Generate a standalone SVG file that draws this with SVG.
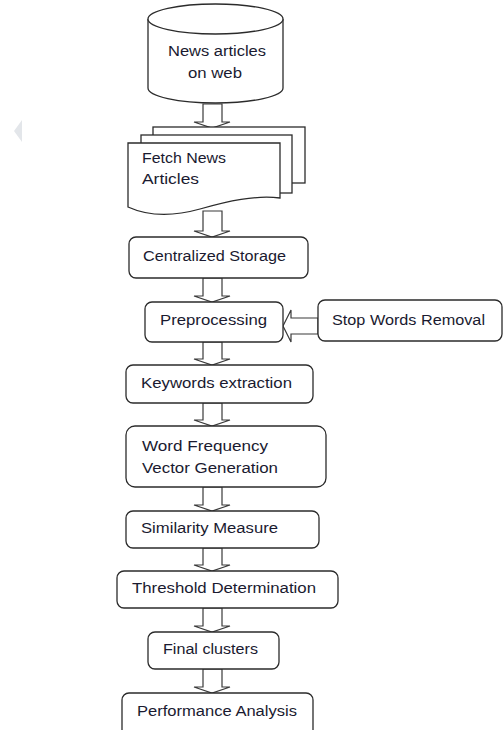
<svg xmlns="http://www.w3.org/2000/svg" width="503" height="730" viewBox="0 0 503 730">
<defs>
<style>
.bx{fill:#fff;stroke:#2b2b2b;stroke-width:1.3}
.ar{fill:#fff;stroke:#3a3a3a;stroke-width:1.2;stroke-linejoin:miter}
.t{font-family:"Liberation Sans",Arial,sans-serif;font-size:15.5px;fill:#1a1a30}
</style>
</defs>
<rect width="503" height="730" fill="#fff"/>
<polygon points="22,120 14,131 22,142" fill="#e3e6ea"/>
<g id="connectors">
<polygon class="ar" points="203,104 222,104 222,122 230,122 212,128 194,122 203,122"/>
<polygon class="ar" points="203,211 222,211 222,231 230,231 212,237 194,231 203,231"/>
<polygon class="ar" points="203,278 222,278 222,296 230,296 212,302 194,296 203,296"/>
<polygon class="ar" points="203,342 222,342 222,359 230,359 212,365 194,359 203,359"/>
<polygon class="ar" points="203,403 222,403 222,420 230,420 212,426 194,420 203,420"/>
<polygon class="ar" points="203,487 222,487 222,505 230,505 212,511 194,505 203,505"/>
<polygon class="ar" points="203,548 222,548 222,565 230,565 212,571 194,565 203,565"/>
<polygon class="ar" points="203,608 222,608 222,626 230,626 212,632 194,626 203,626"/>
<polygon class="ar" points="203,669 222,669 222,687 230,687 212,693 194,687 203,687"/>
<polygon class="ar" points="318,318 291,318 291,310 283,326 291,342 291,334 318,334"/>
</g>
<g id="news-web">
<path class="bx" d="M148,19 L148,88 A67.5,15 0 0 0 283,88 L283,19 A67.5,15 0 0 0 148,19 Z"/>
<path class="bx" fill="none" d="M148,19 A67.5,15 0 0 0 283,19"/>
<text class="t" x="217" y="56" text-anchor="middle" textLength="98" lengthAdjust="spacingAndGlyphs">News articles</text>
<text class="t" x="215" y="78" text-anchor="middle" textLength="54" lengthAdjust="spacingAndGlyphs">on web</text>
</g>
<g id="fetch">
<rect class="bx" x="153" y="127" width="152" height="56"/>
<rect class="bx" x="141" y="135" width="151" height="58"/>
<path class="bx" d="M128,143 L280,143 L280,198 C255,195 228,201 200,209 C175,216 150,217 128,207 Z"/>
<text class="t" x="142" y="163" textLength="84" lengthAdjust="spacingAndGlyphs">Fetch News</text>
<text class="t" x="142" y="184" textLength="57" lengthAdjust="spacingAndGlyphs">Articles</text>
</g>
<g id="storage">
<rect class="bx" x="129" y="237" width="179" height="41" rx="7"/>
<text class="t" x="143" y="261" textLength="143" lengthAdjust="spacingAndGlyphs">Centralized Storage</text>
</g>
<g id="preprocessing">
<rect class="bx" x="145" y="302" width="138" height="40" rx="7"/>
<text class="t" x="160" y="325" textLength="107" lengthAdjust="spacingAndGlyphs">Preprocessing</text>
</g>
<g id="stopwords">
<rect class="bx" x="318" y="300" width="184" height="41" rx="7"/>
<text class="t" x="332" y="325" textLength="153" lengthAdjust="spacingAndGlyphs">Stop Words Removal</text>
</g>
<g id="keywords">
<rect class="bx" x="126" y="365" width="187" height="38" rx="7"/>
<text class="t" x="141" y="388" textLength="151" lengthAdjust="spacingAndGlyphs">Keywords extraction</text>
</g>
<g id="wordfreq">
<rect class="bx" x="126" y="426" width="200" height="61" rx="9"/>
<text class="t" x="142" y="451" textLength="126" lengthAdjust="spacingAndGlyphs">Word Frequency</text>
<text class="t" x="142" y="473" textLength="136" lengthAdjust="spacingAndGlyphs">Vector Generation</text>
</g>
<g id="similarity">
<rect class="bx" x="126" y="511" width="193" height="37" rx="7"/>
<text class="t" x="141" y="533" textLength="137" lengthAdjust="spacingAndGlyphs">Similarity Measure</text>
</g>
<g id="threshold">
<rect class="bx" x="117" y="571" width="221" height="37" rx="7"/>
<text class="t" x="132" y="593" textLength="184" lengthAdjust="spacingAndGlyphs">Threshold Determination</text>
</g>
<g id="final">
<rect class="bx" x="148" y="632" width="131" height="37" rx="7"/>
<text class="t" x="163" y="654" textLength="95" lengthAdjust="spacingAndGlyphs">Final clusters</text>
</g>
<g id="performance">
<rect class="bx" x="122" y="693" width="191" height="45" rx="7"/>
<text class="t" x="137" y="716" textLength="160" lengthAdjust="spacingAndGlyphs">Performance Analysis</text>
</g>
</svg>
